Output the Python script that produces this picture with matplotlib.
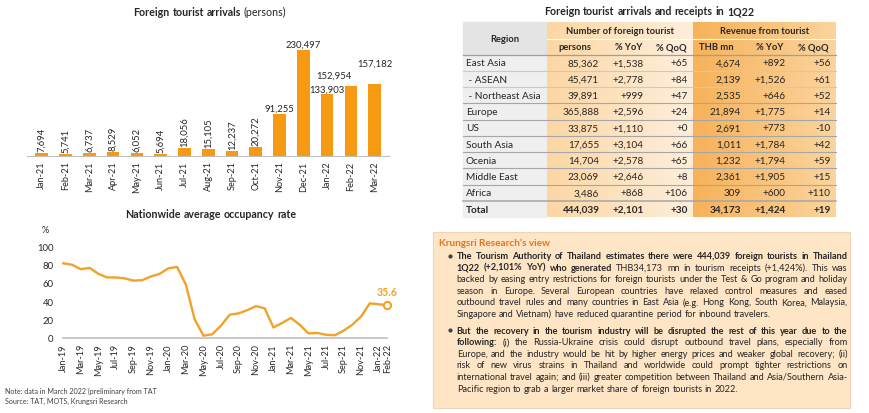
import matplotlib
matplotlib.use("Agg")
import matplotlib.pyplot as plt
import numpy as np
from matplotlib.patches import Rectangle
from matplotlib.colors import to_rgb

# data
bar_months = ["Jan-21", "Feb-21", "Mar-21", "Apr-21", "May-21", "Jun-21", "Jul-21", "Aug-21",
              "Sep-21", "Oct-21", "Nov-21", "Dec-21", "Jan-22", "Feb-22", "Mar-22"]
arrivals = [7694, 5741, 6737, 8529, 6052, 5694, 18056, 15105, 12237, 20272,
            91255, 230497, 133903, 152954, 157182]

mon = ["Jan", "Feb", "Mar", "Apr", "May", "Jun", "Jul", "Aug", "Sep", "Oct", "Nov", "Dec"]
occ_months = [f"{m}-{y}" for y in ("19", "20", "21", "22") for m in mon][:38]
occupancy = [81.5, 80, 75, 76.5, 70, 66, 66, 65, 62.5, 63, 67, 70, 76, 77.5, 58, 20, 2, 3.5,
             13, 25, 26.5, 30, 34.5, 32, 11, 16, 21.5, 14, 4.5, 5, 3, 2.5, 7.5, 14, 23, 37.5,
             36.5, 35.6]

regions = ["East Asia", " - ASEAN", " - Northeast Asia", "Europe", "US", "South Asia",
           "Ocenia", "Middle East", "Africa", "Total"]
persons = [85362, 45471, 39891, 365888, 33875, 17655, 14704, 23069, 3486, 444039]
persons_yoy = [1538, 2778, 999, 2596, 1110, 3104, 2578, 2646, 868, 2101]
persons_qoq = [65, 84, 47, 24, 0, 66, 65, 8, 106, 30]
revenue = [4674, 2139, 2535, 21894, 2691, 1011, 1232, 2361, 309, 34173]
revenue_yoy = [892, 1526, 646, 1775, 773, 1784, 1794, 1905, 600, 1424]
revenue_qoq = [56, 61, 52, 14, -10, 42, 59, 15, 110, 19]

# (bold part, normal part, justify)
view_bullets = [
    [("The Tourism Authority of Thailand estimates there were 444,039 foreign tourists in Thailand", "", True),
     ("1Q22 (+2,101% YoY) who generated", "THB34,173 mn in tourism receipts (+1,424%). This was", True),
     ("", "backed by easing entry restrictions for foreign tourists under the Test & Go program and holiday", True),
     ("", "season in Europe. Several European countries have relaxed control measures and eased", True),
     ("", "outbound travel rules and many countries in East Asia (e.g. Hong Kong, South Korea, Malaysia,", True),
     ("", "Singapore and Vietnam) have reduced quarantine period for inbound travelers.", False)],
    [("But the recovery in the tourism industry will be disrupted the rest of this year due to the", "", True),
     ("following:", "(i) the Russia-Ukraine crisis could disrupt outbound travel plans, especially from", True),
     ("", "Europe, and the industry would be hit by higher energy prices and weaker global recovery; (ii)", True),
     ("", "risk of new virus strains in Thailand and worldwide could prompt tighter restrictions on", True),
     ("", "international travel again; and (iii) greater competition between Thailand and Asia/Southern Asia-", True),
     ("", "Pacific region to grab a larger market share of foreign tourists  in 2022.", False)],
]

plt.rcParams["font.family"] = ["Lato", "DejaVu Sans"]
TXT = "#262626"
BAR_C = "#F59A12"
LINE_C = "#F0A22C"
W, H = 870, 414

fig = plt.figure(figsize=(8.7, 4.14), dpi=100)

# full-figure canvas in pixel coords for table, box and notes
canvas = fig.add_axes([0, 0, 1, 1], zorder=0)
canvas.axis("off")
canvas.set_xlim(0, W)
canvas.set_ylim(H, 0)
renderer = fig.canvas.get_renderer()


def px_axes(x0, x1, ytop, ybot):
    return fig.add_axes([x0 / W, 1 - ybot / H, (x1 - x0) / W, (ybot - ytop) / H])


def text_width(s, size, weight="normal"):
    t = canvas.text(0, 0, s, fontsize=size, fontweight=weight)
    w = t.get_window_extent(renderer).width
    t.remove()
    return w


def fit_size(s, target, weight="normal"):
    return 10 * target / text_width(s, 10, weight)


def tokens_of(btxt, ntxt):
    return [(w, True) for w in btxt.split()] + [(w, False) for w in ntxt.split()]


def natural_width(tokens, size):
    space = text_width("a a", size) - text_width("aa", size)
    return sum(text_width(w, size, "bold" if b else "normal") for w, b in tokens) + space * (len(tokens) - 1)


def place_words(tokens, x0, y, size, x1=None, color=TXT):
    # tokens: list of (word, bold); justified if x1 given
    texts = [canvas.text(0, y, w, fontsize=size, fontweight="bold" if b else "normal",
                         va="center", ha="left", color=color, zorder=3) for w, b in tokens]
    widths = [t.get_window_extent(renderer).width for t in texts]
    space = text_width("a a", size) - text_width("aa", size)
    if x1 is not None and len(texts) > 1:
        gap = (x1 - x0 - sum(widths)) / (len(texts) - 1)
    else:
        gap = space
    x = x0
    for t, w in zip(texts, widths):
        t.set_x(x)
        x += w + gap
    return texts, x - gap - x0


def centered_title(parts, xc, y, size):
    tokens = []
    for txt, b in parts:
        tokens += [(w, b) for w in txt.split()]
    texts, width = place_words(tokens, 0, y, size)
    for t in texts:
        t.set_x(t.get_position()[0] + xc - width / 2)


title_size = fit_size("Foreign tourist arrivals and receipts in 1Q22", 210, "bold")

# ---------------- bar chart ----------------
centered_title([("Foreign tourist arrivals", True), ("(persons)", False)], 210, 12.7, title_size)
ax1 = px_axes(27.4, 389, 37, 157.3)
x = np.arange(len(arrivals))
ax1.bar(x, arrivals, width=0.53, color=BAR_C)
ax1.set_xlim(-0.6, len(arrivals) - 0.4)
ax1.set_ylim(0, 260000)
ax1.set_xticks(x)
ax1.set_xticklabels(bar_months, rotation=90, fontsize=6.6, color=TXT)
ax1.tick_params(length=0, pad=3)
ax1.set_yticks([])
for s in ["top", "right", "left"]:
    ax1.spines[s].set_visible(False)
ax1.spines["bottom"].set_color("#BFBFBF")
ax1.patch.set_alpha(0)
# label offsets (px) for the big bars
big_offsets = [(0, 5.8), (0, 5.7), (0, 5.4), (-17.3, 9.9), (0, 20.6)]
for i, v in enumerate(arrivals):
    if i < 10:
        ax1.annotate(f"{v:,}", (i, v), xytext=(0, 1.5), textcoords="offset points",
                     rotation=90, ha="center", va="bottom", fontsize=6.8, color=TXT)
    else:
        dx, dy = big_offsets[i - 10]
        ax1.annotate(f"{v:,}", (i, v), xytext=(dx * 0.72, dy * 0.72), textcoords="offset points",
                     ha="center", va="center", fontsize=6.8, color=TXT)

# ---------------- line chart ----------------
centered_title([("Nationwide average occupancy rate", True)], 211, 215, title_size)
canvas.text(45, 230.7, "%", fontsize=6.6, ha="center", va="center", color=TXT)
ax2 = px_axes(63.3, 387.3, 247.5, 338.5)
xi = np.arange(len(occupancy))
ax2.plot(xi, occupancy, color=LINE_C, lw=1.7, clip_on=False, solid_joinstyle="round")
ax2.plot(xi[-1], occupancy[-1], "o", ms=5.2, mfc="white", mec=LINE_C, mew=1.5, clip_on=False)
ax2.annotate(f"{occupancy[-1]}", (xi[-1], occupancy[-1]), xytext=(0, 9.5), textcoords="offset points",
             ha="center", va="center", fontsize=7.6, fontweight="bold", color=LINE_C)
ax2.set_xlim(0, len(occupancy) - 1)
ax2.set_ylim(0, 100)
ticks = list(range(0, len(occupancy) - 1, 2)) + [len(occupancy) - 1]
ax2.set_xticks(ticks)
ax2.set_xticklabels([occ_months[t] for t in ticks], rotation=90, fontsize=6.6, color=TXT)
ax2.set_yticks(range(0, 101, 20))
ax2.tick_params(axis="y", labelsize=6.8, labelcolor=TXT, length=0, pad=7)
ax2.tick_params(axis="x", length=0, pad=4)
for s in ["top", "right", "left"]:
    ax2.spines[s].set_visible(False)
ax2.spines["bottom"].set_color("#BFBFBF")
ax2.spines["bottom"].set_linewidth(1.2)
ax2.patch.set_alpha(0)

note_size = fit_size("Note: data in March 2022 (preliminary from TAT", 152)
canvas.text(5, 391.7, "Note: data in March 2022 (preliminary from TAT", fontsize=note_size,
            va="center", color="#404040")
canvas.text(5, 401.3, "Source: TAT, MOTS, Krungsri Research", fontsize=note_size,
            va="center", color="#404040")

# ---------------- table ----------------
centered_title([("Foreign tourist arrivals and receipts in 1Q22", True)], 649, 11.7, title_size)


def hgrad(x0, x1, y0, y1, c0, c1):
    a, b = np.array(to_rgb(c0)), np.array(to_rgb(c1))
    img = a + (b - a) * np.linspace(0, 1, 64)[None, :, None]
    canvas.imshow(img, extent=(x0, x1, y1, y0), aspect="auto", interpolation="bilinear", zorder=1)


tx0, tx1, tx2, tx3 = 463.3, 546.7, 693.3, 836
ty0, ty1, ty2 = 23.3, 39.5, 55.7
rh = 16.25
ty_end = ty2 + rh * len(regions)
canvas.add_patch(Rectangle((tx0, ty0), tx1 - tx0, ty2 - ty0, color="#E4E4E4", zorder=1))
canvas.add_patch(Rectangle((tx0, ty2), tx1 - tx0, ty_end - ty2, color="#EFEFEF", zorder=1))
hgrad(tx1, tx2, ty0, ty_end, "#FCD7A4", "#FEEFDC")
hgrad(tx2, tx3, ty0, ty_end, "#F7B25A", "#FBD49E")
canvas.set_xlim(0, W)
canvas.set_ylim(H, 0)

canvas.plot([tx1, tx3], [ty1, ty1], color="white", lw=0.8, zorder=2)
canvas.plot([tx0, tx3], [ty2, ty2], color="#9E9E9E", lw=0.9, zorder=2)
for k in range(1, len(regions)):
    yb = ty2 + k * rh
    c = "#C9C9C9" if k in (1, 2) else "#A6A6A6"
    canvas.plot([tx0, tx3], [yb, yb], color=c, lw=1.1 if k == len(regions) - 1 else 0.8, zorder=2)

hs = fit_size("Number of foreign tourist", 108, "bold")
bs_tab = fit_size("85,362", 31.3)
canvas.text((tx0 + tx1) / 2, (ty0 + ty2) / 2, "Region", fontsize=hs, fontweight="bold",
            ha="center", va="center", color=TXT, zorder=3)
canvas.text(620, (ty0 + ty1) / 2, "Number of foreign tourist", fontsize=hs, fontweight="bold",
            ha="center", va="center", color=TXT, zorder=3)
canvas.text(765, (ty0 + ty1) / 2, "Revenue from tourist", fontsize=hs, fontweight="bold",
            ha="center", va="center", color=TXT, zorder=3)
sub_heads = ["persons", "% YoY", "% QoQ", "THB mn", "% YoY", "% QoQ"]
sub_x = [575, 628.3, 671.7, 716.7, 770, 813.3]
for sx, sh in zip(sub_x, sub_heads):
    canvas.text(sx, (ty1 + ty2) / 2, sh, fontsize=hs, fontweight="bold", ha="center",
                va="center", color=TXT, zorder=3)

col_right = [599, 644, 688, 741, 786, 831]
for r, reg in enumerate(regions):
    yc = ty2 + (r + 0.5) * rh
    wt = "bold" if reg == "Total" else "normal"
    cells = [f"{persons[r]:,}", f"{persons_yoy[r]:+,}", f"{persons_qoq[r]:+,}",
             f"{revenue[r]:,}", f"{revenue_yoy[r]:+,}", f"{revenue_qoq[r]:+,}"]
    canvas.text(465.7, yc, reg, fontsize=bs_tab, fontweight=wt, ha="left", va="center", color=TXT, zorder=3)
    for cx, cv in zip(col_right, cells):
        canvas.text(cx, yc, cv, fontsize=bs_tab, fontweight=wt, ha="right", va="center", color=TXT, zorder=3)

# ---------------- Krungsri view box ----------------
canvas.add_patch(Rectangle((432.7, 232.7), 417.3, 176.5, facecolor="#FDE5C6", edgecolor="#EBD6BB",
                           lw=0.8, zorder=1))
canvas.text(439.3, 243.5, "Krungsri Research\u2019s view", fontsize=fit_size("Krungsri Research\u2019s view", 112, "bold"),
            fontweight="bold", color="#E8731E", va="center", ha="left", zorder=3)

x_left, x_right = 456.7, 847.7
# font size so that the widest justified line fits with normal spacing
body_size = min(10 * (x_right - x_left) / natural_width(tokens_of(b, n), 10)
                for lines in view_bullets for b, n, j in lines if j) * 0.99
line_gap = 11.6
y_starts = [256.5, 256.5 + 6 * line_gap + 5]
for lines, y0 in zip(view_bullets, y_starts):
    canvas.plot(450, y0, "o", ms=2, color="#404040", zorder=3)
    for j, (btxt, ntxt, just) in enumerate(lines):
        place_words(tokens_of(btxt, ntxt), x_left, y0 + j * line_gap, body_size,
                    x1=x_right if just else None)

fig.savefig("out.png", dpi=100)
